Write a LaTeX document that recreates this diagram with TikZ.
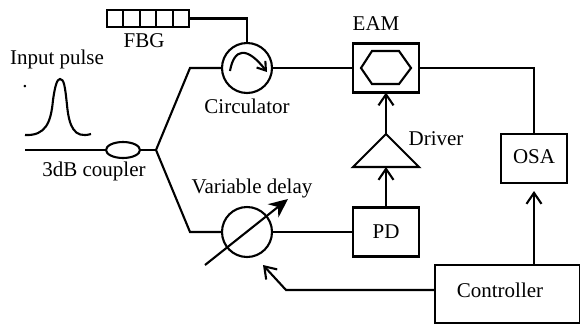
\documentclass[tikz,border=0pt]{standalone}
\usepackage{fontspec}
\setmainfont{Liberation Serif}
\usetikzlibrary{arrows.meta, shapes.geometric}
\tikzset{
    box/.style={rectangle, draw, outer sep=0pt, minimum width=66pt, minimum height=49pt},
    cell/.style={rectangle, draw, outer sep=0pt, minimum width=16.4pt, minimum height=17pt},
    port/.style={circle, draw, outer sep=0pt, minimum size=50pt},
    label/.style={inner sep=0pt, font=\fontsize{21}{24}\selectfont},
}
\begin{document}
\begin{tikzpicture}[x=1pt, y=-1pt, line width=2.1pt, >={Straight Barb[length=11pt, width=15pt, line width=2.1pt]}]
        \useasboundingbox (0, 0) rectangle (580, 325);

        \node[cell] (f1) at (115.2, 18.5) {};
        \node[cell] (f2) at (131.6, 18.5) {};
        \node[cell] (f3) at (148, 18.5) {};
        \node[cell] (f4) at (164.4, 18.5) {};
        \node[cell] (f5) at (180.8, 18.5) {};
        \node[port] (circ) at (247, 68) {};
        \node[port] (delay) at (247, 232) {};
        \node[box] (eam) at (386, 68) {};
        \node[box] (pd) at (386, 232) {};
        \node[box] (osa) at (534, 158.5) {};
        \node[box, minimum width=145pt, minimum height=58pt] (ctrl) at (507.5, 294) {};
        \node[ellipse, draw, outer sep=0pt, minimum width=34pt, minimum height=16pt] (coupler) at (123, 150) {};

        \coordinate (in) at (25, 150);
        \coordinate (split) at (156, 150);
        \coordinate (upper) at (190, 68);
        \coordinate (lower) at (190, 232);
        \coordinate (fbgbend) at (247, 18.5);
        \coordinate (osabend) at (534, 68);
        \coordinate (ctrlbend) at (286, 290);
        \coordinate (ctrlend) at (263, 265);
        \coordinate (d1) at (386, 134);
        \coordinate (d2) at (353, 167);
        \coordinate (d3) at (419, 167);
        \coordinate (d4) at (386, 167);
        \coordinate (osaend) at (534, 191);
        \coordinate (knob1) at (205, 265);
        \coordinate (knob2) at (288, 199);

        \draw (in) -- (coupler);
        \draw (coupler) -- (split);
        \draw (split) -- (upper) -- (circ);
        \draw (split) -- (lower) -- (delay);
        \draw (f5) -- (fbgbend) -- (circ);
        \draw (circ) -- (eam);
        \draw (delay) -- (pd);
        \draw (eam) -- (osabend) -- (osa);
        \draw (d1) -- (d2) -- (d3) -- cycle;
        \draw [->] (pd) -- (d4);
        \draw [->] (d1) -- (eam);
        \draw [->] (ctrl.north -| osa) -- (osaend);
        \draw [->] (ctrl.west |- ctrlbend) -- (ctrlbend) -- (ctrlend);
        \draw [-{Stealth[length=19pt, width=17pt]}] (knob1) -- (knob2);

        % modulator mark
        \draw (361, 68) -- (372, 51) -- (399, 51) -- (411, 68) -- (399, 84) -- (372, 84) -- cycle;
        % circulator mark
        \draw [-{Straight Barb[length=8pt, width=11pt, line width=2.1pt]}] (230, 71) .. controls (234, 48) and (247, 46) .. (267, 72);
        % pulse
        \draw (25, 135) .. controls (46, 136) and (51, 122) .. (53, 100) .. controls (55, 86) and (57, 79) .. (60, 79) .. controls (64, 79) and (65, 86) .. (67, 105) .. controls (69, 126) and (74, 139) .. (91, 134);

        \node[label] (lfbg) at (144, 41) {FBG};
        \node[label, anchor=base west] (lin) at (9, 64) {Input pulse};
        \node[label] (ldot) at (25, 87) {.};
        \node[label] (lcirc) at (247, 106) {Circulator};
        \node[label] (lcoup) at (94, 171) {3dB coupler};
        \node[label] (ldelay) at (252, 188) {Variable delay};
        \node[label] (leam) at (376, 24) {EAM};
        \node[label] (ldrv) at (436, 139) {Driver};
        \node[label] (losa) at (534, 157) {OSA};
        \node[label] (lpd) at (386, 232) {PD};
        \node[label] (lctrl) at (500, 290) {Controller};
    \end{tikzpicture}
\end{document}
